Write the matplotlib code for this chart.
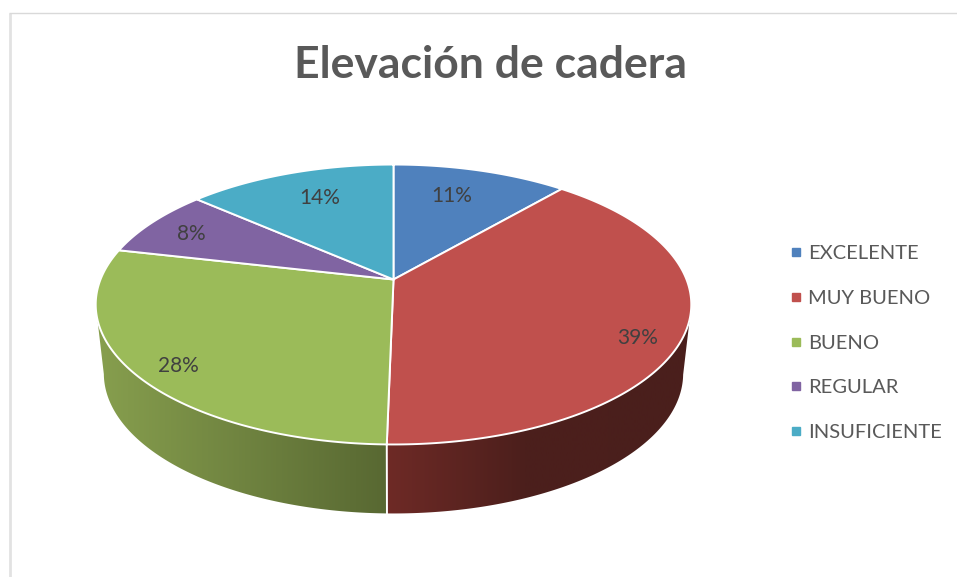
from matplotlib import pyplot as plt
from matplotlib.colors import LinearSegmentedColormap
from matplotlib.lines import Line2D
from matplotlib.patches import Polygon
import numpy as np

title = 'Elevación de cadera'
categories = ['EXCELENTE', 'MUY BUENO', 'BUENO', 'REGULAR', 'INSUFICIENTE']
values = [11.3, 39, 28.3, 7.9, 13.5]
value_labels = ['11%', '39%', '28%', '8%', '14%']
colors = ['#4F81BD', '#C0504D', '#9BBB59', '#8064A2', '#4BACC6']

# side wall shading, colour stops from left to right (0-1 over the wall piece)
side_stops = {
    1: [(0, '#6E2A26'), (0.45, '#4C1F1C'), (1, '#4A1F1C')],
    2: [(0, '#879F4E'), (1, '#586832')],
}

# where the labels sit, picture pixels
label_pos = [(452, 196), (638, 338), (178, 366), (191, 234), (320, 198)]
APEX = (393.5, 279.5)


def project(angle, a=293.0, b=135.5, c=0.1786, shift=0.0):
    """perspective view of the unit disc, angle is clockwise from the top"""
    u = np.sin(angle)
    v = np.cos(angle)
    w = 1 + c * v
    return APEX[0] + a * u / w, APEX[1] + shift - b * v / w


fig = plt.figure(figsize=(9.57, 5.77), dpi=100)
ax = fig.add_axes([0, 0, 1, 1])
ax.axis('off')

# frame of the chart area, cropped on the right and at the bottom
ax.plot([9.7, 9.7], [12.5, 577], color='#E2E2E2', lw=2.0, solid_capstyle='butt')
ax.plot([9, 957], [12.5, 12.5], color='#D9D9D9', lw=1.0, solid_capstyle='butt')

edges = np.cumsum([0] + values) / np.sum(values) * 2 * np.pi

# side wall, a gradient clipped to the wall outline
depth = 69
for i, stops in side_stops.items():
    t = np.linspace(edges[i], edges[i + 1], 300)
    t = t[np.cos(t) < -0.18]
    x_top, y_top = project(t)
    x_bot, y_bot = project(t, a=285.0, shift=depth)
    outline = Polygon(np.c_[np.r_[x_top, x_bot[::-1]], np.r_[y_top, y_bot[::-1]]],
                      closed=True, facecolor='none', edgecolor='none', transform=ax.transData)
    ax.add_patch(outline)
    left, right = min(x_top.min(), x_bot.min()), max(x_top.max(), x_bot.max())
    cmap = LinearSegmentedColormap.from_list('side', stops)
    im = ax.imshow(np.linspace(0, 1, 256)[None, :], extent=(left, right, 577, 0), cmap=cmap,
                   aspect='auto', zorder=2, interpolation='bilinear')
    im.set_clip_path(outline)
    if i == 1:
        # white seam between the two walls, at the end of the red slice
        ax.plot([x_top[-1], x_bot[-1]], [y_top[-1], y_bot[-1]], color='white', lw=1.4, zorder=3)

# top of the pie
for i, col in enumerate(colors):
    t = np.linspace(edges[i], edges[i + 1], 200)
    x, y = project(t)
    ax.fill(np.r_[APEX[0], x], np.r_[APEX[1], y], facecolor=col, edgecolor='white', lw=1.4,
            joinstyle='miter', zorder=4)

for lab, (lx, ly) in zip(value_labels, label_pos):
    ax.text(lx, ly, lab, ha='center', va='center', fontsize=15, color='#404040',
            family='Lato', zorder=5)

ax.text(490, 78, title, ha='center', va='baseline', fontsize=32, fontweight='bold',
        color='#595959', family='Lato')

ax.set_xlim(0, 957)
ax.set_ylim(577, 0)

handles = [Line2D([], [], ls='none', marker='s', ms=5.6, color=c) for c in colors]
ax.legend(handles, categories, loc='center left', bbox_to_anchor=(768 / 957, 1 - 343 / 577),
          frameon=False, labelspacing=1.38, handlelength=1.0, handletextpad=0.1,
          labelcolor='#595959', prop={'family': 'Lato', 'size': 14.5})

fig.savefig('out.png', dpi=100)
